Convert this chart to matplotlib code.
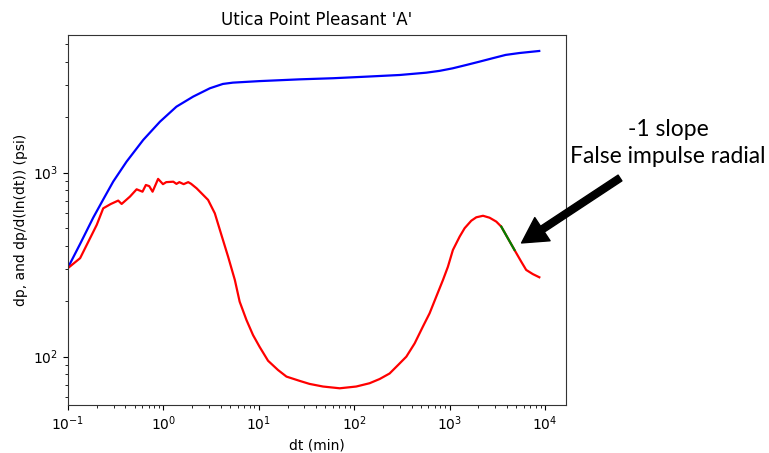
import matplotlib
matplotlib.use("Agg")
import matplotlib.pyplot as plt

# dp curve (blue)
dp_t = [0.1, 0.134, 0.184, 0.234, 0.298, 0.411, 0.615, 0.92, 1.37, 2.05, 3.07,
        4.2, 5.35, 10.2, 26.8, 60, 134, 300, 570, 785, 1075, 1496, 2050, 2840,
        3870, 5410, 8700]
dp = [305, 410, 570, 715, 895, 1148, 1507, 1892, 2284, 2590, 2875, 3035, 3085,
      3145, 3215, 3260, 3325, 3395, 3495, 3575, 3690, 3848, 4010, 4190, 4365,
      4470, 4585]

# derivative dp/d(ln(dt)) (red)
der_t = [0.1, 0.134, 0.2, 0.234, 0.28, 0.336, 0.365, 0.446, 0.524, 0.604, 0.655,
         0.71, 0.77, 0.88, 0.99, 1.07, 1.27, 1.37, 1.47, 1.63, 1.82, 1.95, 2.23,
         2.94, 3.46, 4.06, 4.77, 5.61, 6.3, 7.43, 8.7, 10.2, 12.5, 15.9, 19.5,
         26.9, 34, 47.1, 70.5, 105, 145, 185, 235, 288, 352, 430, 526, 617, 725,
         852, 960, 1083, 1274, 1437, 1687, 1905, 2240, 2625, 3085, 3480, 4080,
         4790, 5640, 6350, 7450, 8720]
der = [303, 343, 520, 640, 675, 705, 676, 741, 812, 788, 857, 845, 788, 925, 866,
       888, 893, 869, 888, 866, 888, 870, 822, 711, 601, 458, 349, 261, 199, 158,
       131, 113, 95, 84.6, 77.9, 73.8, 71.1, 68.8, 67.3, 68.8, 71.7, 75.6, 81, 90,
       100, 118, 146, 172, 212, 261, 308, 380, 449, 499, 548, 572, 583, 569, 542,
       509, 440, 380, 328, 296, 281, 270]

# -1 slope segment (green)
slope_t = [3480, 4080, 4790]
slope_y = [509, 440, 380]

fig = plt.figure(figsize=(7.69, 4.53), dpi=100)
ax = fig.add_axes([68 / 769, 1 - 405 / 453, (566 - 68) / 769, (405 - 35) / 453])

ax.plot(dp_t, dp, color="blue", lw=1.6)
ax.plot(der_t, der, color="red", lw=1.6)
ax.plot(slope_t, slope_y, color="green", lw=1.6)

ax.set_xscale("log")
ax.set_yscale("log")
ax.set_xlim(0.1, 1.66e4)
ax.set_ylim(54.6, 5600)
ax.set_title("Utica Point Pleasant 'A'", fontsize=12, pad=7)
ax.set_xlabel("dt (min)", fontsize=10)
ax.set_ylabel("dp, and dp/d(ln(dt)) (psi)", fontsize=10)
ax.tick_params(labelsize=10)
for s in ax.spines.values():
    s.set_color("#333333")

# annotation arrow + text
ax.annotate("", xy=(5680, 415), xycoords="data",
            xytext=(620 / 769, 1 - 178 / 453), textcoords="figure fraction",
            arrowprops=dict(facecolor="black", edgecolor="black", width=5,
                            headwidth=20, headlength=18, shrink=0),
            annotation_clip=False)
fig.text(668 / 769, 1 - 143 / 453, "-1 slope\nFalse impulse radial",
         ha="center", va="center", fontsize=16.5, family="Lato", linespacing=1.3)

fig.savefig("out.png", dpi=100)
